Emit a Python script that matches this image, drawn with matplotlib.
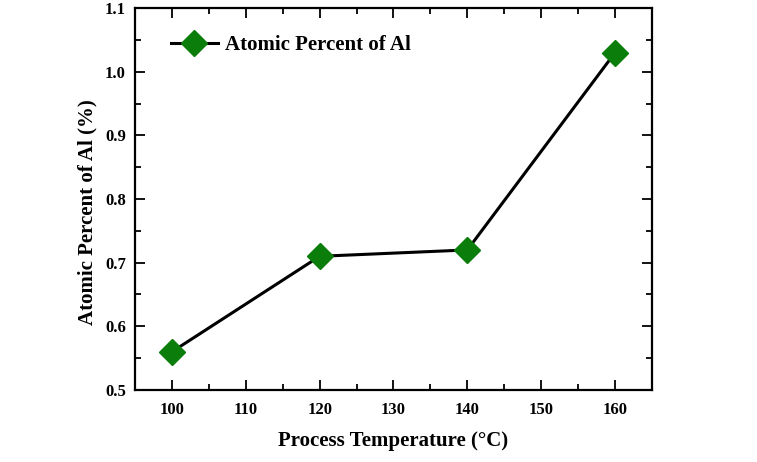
import matplotlib.pyplot as plt
from matplotlib.ticker import MultipleLocator

# Data
temperature = [100, 120, 140, 160]
al_percent = [0.56, 0.71, 0.72, 1.03]

plt.rcParams['font.family'] = ['Liberation Serif', 'DejaVu Serif']
plt.rcParams['font.weight'] = 'bold'

fig = plt.figure(figsize=(7.57, 4.62), dpi=100)
ax = fig.add_axes([135 / 757, 1 - 390 / 462, (652 - 135) / 757, (390 - 8) / 462])

ax.plot(temperature, al_percent, color='black', linewidth=2.2, marker='D',
        markersize=13, markerfacecolor='#0a7d0a', markeredgecolor='#0a7d0a',
        label='Atomic Percent of Al')

ax.set_xlim(95, 165)
ax.set_ylim(0.5, 1.1)
ax.xaxis.set_major_locator(MultipleLocator(10))
ax.xaxis.set_minor_locator(MultipleLocator(5))
ax.yaxis.set_major_locator(MultipleLocator(0.1))
ax.yaxis.set_minor_locator(MultipleLocator(0.05))
ax.yaxis.set_major_formatter(plt.FormatStrFormatter('%.1f'))

ax.tick_params(which='both', direction='in', top=True, right=True, width=1.3, labelsize=12)
ax.tick_params(which='major', length=7)
ax.tick_params(which='minor', length=4)
ax.tick_params(axis='x', which='major', pad=9)
ax.tick_params(axis='y', which='major', pad=6.5)
for s in ax.spines.values():
    s.set_linewidth(1.6)

ax.set_xlabel('Process Temperature (°C)', fontsize=15, fontweight='bold', labelpad=9)
ax.set_ylabel('Atomic Percent of Al (%)', fontsize=15, fontweight='bold')
# label sits a bit below the axes centre in the reference
ax.yaxis.set_label_coords(-0.0735, 0.466)

ax.legend(loc='center left', bbox_to_anchor=((171 - 135) / 517, 1 - (45 - 8) / 382),
          frameon=False, handlelength=2.25, handletextpad=0.35, borderpad=0,
          borderaxespad=0, prop={'weight': 'bold', 'size': 15})

fig.savefig('out.png', dpi=100)
